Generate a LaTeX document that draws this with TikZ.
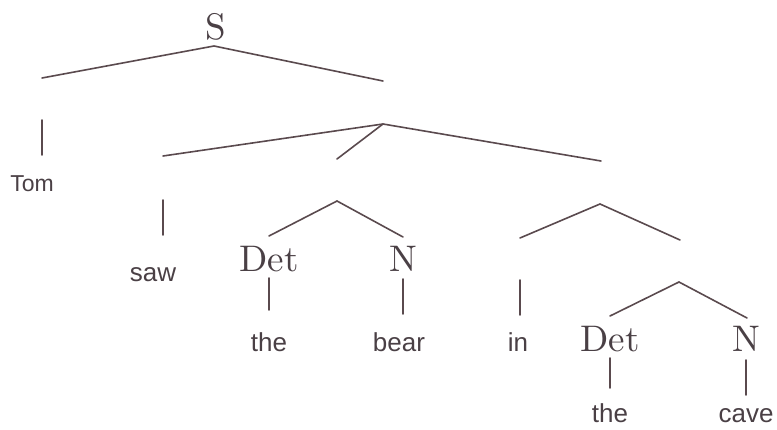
\documentclass[tikz,border=0pt]{standalone}
\usepackage{fontspec}
\newfontfamily\wordfont{Liberation Sans}
\definecolor{ink}{HTML}{5A4A4E}
\definecolor{txt}{HTML}{4A4045}
\tikzset{
  branch/.style={draw=ink, line width=1.6pt, line cap=round},
  catlabel/.style={anchor=base, inner sep=0pt, text=txt, scale=3.7, font=\fontsize{10}{12}\selectfont},
  wordlabel/.style={anchor=base, inner sep=0pt, text=txt, font=\wordfont\fontsize{26}{30}\selectfont},
}
\begin{document}
\begin{tikzpicture}[x=1pt,y=-1pt]
\useasboundingbox (0,0) rectangle (777,430);
% labels
\node[catlabel] (S) at (216,40) {S};
\node[wordlabel,font=\wordfont\fontsize{23}{27}\selectfont] (tom) at (32,192) {Tom};
\node[wordlabel] (saw) at (153,282) {saw};
\node[catlabel] (det) at (269,272) {Det};
\node[catlabel] (n) at (403,272) {N};
\node[wordlabel] (the) at (269,352) {the};
\node[wordlabel] (bear) at (399,352) {bear};
\node[wordlabel] (in) at (518,352) {in};
\node[catlabel] (det2) at (610,352) {Det};
\node[catlabel] (n2) at (746,352) {N};
\node[wordlabel] (the2) at (610,422) {the};
\node[wordlabel] (cave) at (746,422) {cave};
% branch points
\coordinate (sA) at (214,46);
\coordinate (sL) at (42,78);
\coordinate (sR) at (383,81);
\coordinate (tomT) at (42,120);
\coordinate (tomB) at (42,155);
\coordinate (vpA) at (383,124);
\coordinate (vL) at (163,156);
\coordinate (vM) at (337,159);
\coordinate (vR) at (601,161);
\coordinate (sawT) at (163,200);
\coordinate (sawB) at (163,235);
\coordinate (npA) at (337,201);
\coordinate (npL) at (269,236);
\coordinate (npR) at (403,237);
\coordinate (detT) at (269,278);
\coordinate (detB) at (269,310);
\coordinate (nT) at (403,279);
\coordinate (nB) at (403,314);
\coordinate (ppA) at (600,204);
\coordinate (ppL) at (520,238);
\coordinate (ppR) at (680,240);
\coordinate (inT) at (520,280);
\coordinate (inB) at (520,315);
\coordinate (np2A) at (679,282);
\coordinate (np2L) at (610,316);
\coordinate (np2R) at (747,318);
\coordinate (det2T) at (610,358);
\coordinate (det2B) at (610,388);
\coordinate (n2T) at (746,360);
\coordinate (n2B) at (746,395);
% branches
\draw[branch] (sL) -- (sA) -- (sR);
\draw[branch] (tomT) -- (tomB);
\draw[branch] (vL) -- (vpA) -- (vR);
\draw[branch] (vpA) -- (vM);
\draw[branch] (sawT) -- (sawB);
\draw[branch] (npL) -- (npA) -- (npR);
\draw[branch] (detT) -- (detB);
\draw[branch] (nT) -- (nB);
\draw[branch] (ppL) -- (ppA) -- (ppR);
\draw[branch] (inT) -- (inB);
\draw[branch] (np2L) -- (np2A) -- (np2R);
\draw[branch] (det2T) -- (det2B);
\draw[branch] (n2T) -- (n2B);
\end{tikzpicture}
\end{document}
